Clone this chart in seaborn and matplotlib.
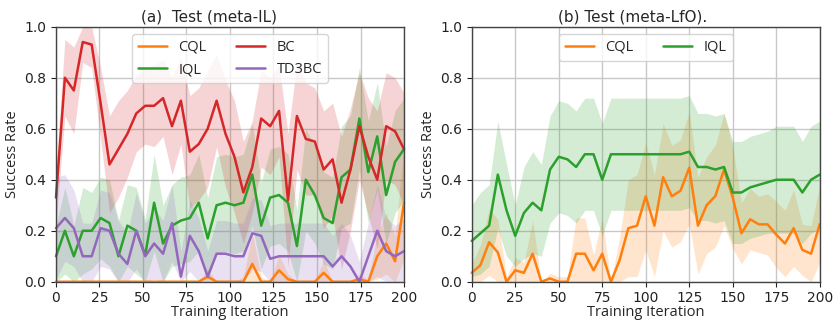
import numpy as np
import pandas as pd
import matplotlib
matplotlib.use("Agg")
import matplotlib.pyplot as plt
import seaborn as sns
from matplotlib.font_manager import FontProperties

# ---------------- data ----------------
# (a) meta-IL : 40 evaluation points between 0 and 200
x_a = np.linspace(0, 200, 40)
cql_a = [0, 0, 0, 0, 0, 0, 0, 0, 0, 0,
         0, 0, 0, 0, 0, 0, 0, 0.02, 0, 0,
         0, 0, 0.07, 0, 0, 0.045, 0.01, 0, 0, 0,
         0.035, 0, 0, 0, 0.01, 0, 0.10, 0.15, 0.08, 0.31]
cql_a_sd = [0, 0, 0, 0, 0, 0, 0, 0, 0, 0,
            0, 0, 0, 0, 0, 0, 0, 0.03, 0, 0,
            0, 0.02, 0.12, 0.02, 0, 0.06, 0.02, 0, 0, 0,
            0.05, 0, 0, 0, 0.02, 0.01, 0.09, 0.12, 0.10, 0.22]
iql_a = [0.10, 0.20, 0.10, 0.20, 0.20, 0.25, 0.23, 0.10, 0.22, 0.20,
         0.105, 0.31, 0.15, 0.22, 0.24, 0.25, 0.31, 0.17, 0.30, 0.31,
         0.30, 0.31, 0.42, 0.22, 0.33, 0.34, 0.31, 0.14, 0.40, 0.34,
         0.25, 0.23, 0.41, 0.44, 0.64, 0.43, 0.57, 0.34, 0.47, 0.52]
iql_a_sd = [0.12, 0.17, 0.12, 0.17, 0.15, 0.16, 0.17, 0.14, 0.16, 0.17,
            0.14, 0.19, 0.15, 0.16, 0.17, 0.17, 0.19, 0.16, 0.19, 0.19,
            0.19, 0.19, 0.20, 0.17, 0.19, 0.19, 0.19, 0.14, 0.20, 0.19,
            0.18, 0.18, 0.20, 0.21, 0.20, 0.20, 0.21, 0.19, 0.20, 0.20]
bc_a = [0.33, 0.80, 0.75, 0.94, 0.93, 0.70, 0.46, 0.52, 0.58, 0.66,
        0.69, 0.69, 0.72, 0.61, 0.71, 0.51, 0.54, 0.60, 0.71, 0.58,
        0.49, 0.35, 0.45, 0.64, 0.61, 0.67, 0.32, 0.65, 0.56, 0.55,
        0.44, 0.48, 0.31, 0.44, 0.61, 0.49, 0.40, 0.61, 0.59, 0.52]
bc_a_sd = [0.10, 0.15, 0.17, 0.08, 0.09, 0.14, 0.19, 0.19, 0.17, 0.15,
           0.15, 0.16, 0.15, 0.19, 0.17, 0.22, 0.22, 0.23, 0.18, 0.21,
           0.22, 0.20, 0.18, 0.19, 0.19, 0.18, 0.26, 0.21, 0.22, 0.21,
           0.23, 0.22, 0.26, 0.24, 0.21, 0.23, 0.27, 0.21, 0.21, 0.22]
td3bc_a = [0.21, 0.25, 0.21, 0.10, 0.10, 0.21, 0.20, 0.11, 0.07, 0.20,
           0.10, 0.15, 0.11, 0.23, 0.02, 0.18, 0.12, 0.02, 0.11, 0.11,
           0.10, 0.10, 0.19, 0.18, 0.09, 0.10, 0.10, 0.10, 0.10, 0.10,
           0.10, 0.06, 0.10, 0.06, 0.00, 0.10, 0.20, 0.12, 0.10, 0.12]
td3bc_a_sd = [0.20, 0.17, 0.15, 0.13, 0.13, 0.15, 0.15, 0.13, 0.12, 0.15,
              0.13, 0.14, 0.13, 0.15, 0.10, 0.14, 0.13, 0.10, 0.13, 0.13,
              0.13, 0.13, 0.14, 0.14, 0.13, 0.13, 0.13, 0.13, 0.13, 0.13,
              0.13, 0.12, 0.13, 0.12, 0.08, 0.13, 0.18, 0.13, 0.12, 0.13]

# (b) meta-LfO : every 5 iterations
x_b = np.arange(0, 201, 5)
cql_b = [0.035, 0.065, 0.155, 0.115, 0.0, 0.045, 0.035, 0.11, 0.0, 0.013,
         0.0, 0.0, 0.11, 0.11, 0.045, 0.11, 0.0, 0.085, 0.21, 0.22,
         0.335, 0.22, 0.41, 0.335, 0.357, 0.447, 0.22, 0.30, 0.336, 0.44,
         0.33, 0.19, 0.245, 0.225, 0.225, 0.185, 0.15, 0.21, 0.125, 0.11, 0.226]
cql_b_sd = [0.035, 0.08, 0.13, 0.13, 0.02, 0.05, 0.04, 0.13, 0.0, 0.02,
            0.02, 0.02, 0.14, 0.14, 0.06, 0.14, 0.0, 0.09, 0.19, 0.20,
            0.21, 0.20, 0.21, 0.20, 0.20, 0.22, 0.19, 0.19, 0.20, 0.22,
            0.20, 0.12, 0.12, 0.11, 0.12, 0.13, 0.13, 0.15, 0.10, 0.11, 0.15]
iql_b = [0.16, 0.19, 0.22, 0.42, 0.28, 0.18, 0.27, 0.31, 0.28, 0.44,
         0.49, 0.48, 0.45, 0.50, 0.50, 0.40, 0.50, 0.50, 0.50, 0.50,
         0.50, 0.50, 0.50, 0.50, 0.50, 0.51, 0.45, 0.45, 0.44, 0.45,
         0.35, 0.35, 0.37, 0.38, 0.39, 0.40, 0.40, 0.40, 0.35, 0.40, 0.42]
iql_b_sd = [0.14, 0.16, 0.16, 0.21, 0.18, 0.12, 0.18, 0.20, 0.18, 0.21,
            0.22, 0.22, 0.22, 0.22, 0.22, 0.22, 0.22, 0.22, 0.22, 0.22,
            0.22, 0.22, 0.22, 0.22, 0.22, 0.22, 0.21, 0.21, 0.21, 0.21,
            0.20, 0.20, 0.20, 0.20, 0.20, 0.21, 0.21, 0.21, 0.20, 0.21, 0.21]

titles = ["(a)  Test (meta-IL)", "(b) Test (meta-LfO)."]
xlabel = "Training Iteration"
ylabel = "Success Rate"
xticks = [0, 25, 50, 75, 100, 125, 150, 175, 200]
yticks = [0.0, 0.2, 0.4, 0.6, 0.8, 1.0]

colors = {"CQL": "#ff7f0e", "IQL": "#2ca02c", "BC": "#d62728", "TD3BC": "#9467bd"}

# ---------------- figure ----------------
sns.set_style("white")
plt.rcParams["font.family"] = ["DejaVu Sans"]

fig = plt.figure(figsize=(8.33, 3.22), dpi=100)
ax1 = fig.add_axes([0.0672, 0.125, 0.4178, 0.792])
ax2 = fig.add_axes([0.5663, 0.125, 0.4178, 0.792])

lab_font = FontProperties(family="Open Sans", size=10.5)
title_font = FontProperties(family="DejaVu Sans", size=11)
leg_font = FontProperties(family="Open Sans", size=10.5)


def draw(ax, x, series):
    for name, m, sd in series:
        m = np.asarray(m, float)
        sd = np.asarray(sd, float)
        ax.fill_between(x, np.clip(m - sd, 0, 1), np.clip(m + sd, 0, 1),
                        color=colors[name], alpha=0.2, lw=0)
    for name, m, sd in series:
        df = pd.DataFrame({"x": x, "y": m})
        sns.lineplot(data=df, x="x", y="y", ax=ax, color=colors[name],
                     lw=1.8, label=name, clip_on=False)


draw(ax1, x_a, [("CQL", cql_a, cql_a_sd), ("IQL", iql_a, iql_a_sd),
                ("BC", bc_a, bc_a_sd), ("TD3BC", td3bc_a, td3bc_a_sd)])
draw(ax2, x_b, [("CQL", cql_b, cql_b_sd), ("IQL", iql_b, iql_b_sd)])

for ax, t, tx in [(ax1, titles[0], 0.441), (ax2, titles[1], 0.462)]:
    ax.set_xlim(0, 200)
    ax.set_ylim(0, 1.0)
    ax.set_xticks(xticks)
    ax.set_yticks(yticks)
    ax.set_yticklabels([f"{v:.1f}" for v in yticks])
    ax.tick_params(labelsize=10, length=3.5, width=0.8, colors="#222222",
                   left=True, bottom=True)
    ax.grid(True, color="#c8c8c8", lw=1.0)
    ax.set_axisbelow(True)
    for s in ax.spines.values():
        s.set_color("#444444")
        s.set_linewidth(1.0)
    ax.set_xlabel(xlabel, fontproperties=lab_font, labelpad=0)
    ax.set_ylabel(ylabel, fontproperties=lab_font, labelpad=3)
    ax.set_title(t, fontproperties=title_font, x=tx, pad=4)
    ax.legend(loc="upper center", ncol=2, prop=leg_font, columnspacing=2.0,
              handlelength=2.0, framealpha=0.8)

fig.savefig("out.png", dpi=100)
